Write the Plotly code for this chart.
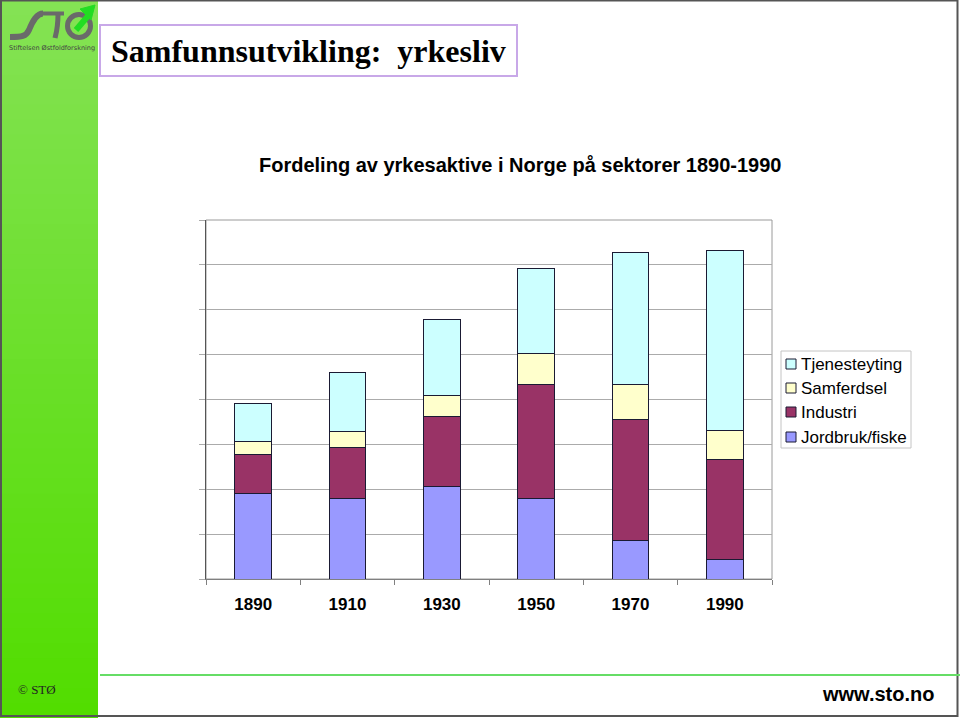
import plotly.graph_objects as go

# ---- data (thousands of employed persons) ----
years = ["1890", "1910", "1930", "1950", "1970", "1990"]
jordbruk = [479, 446, 518, 446, 213, 109]
industri = [214, 287, 386, 636, 676, 558]
samferdsel = [72, 87, 118, 172, 196, 163]
tjeneste = [211, 328, 426, 478, 735, 998]

series_names = ["Jordbruk/fiske", "Industri", "Samferdsel", "Tjenesteyting"]
series_values = [jordbruk, industri, samferdsel, tjeneste]
series_colors = ["#9999FF", "#993366", "#FFFFCC", "#CCFFFF"]
outline = "#1a1a33"

W, H = 960, 718
L, R, T, B = 206, 772, 220, 579


def X(px):
    return (px - L) / (R - L)


def Y(py):
    return (B - py) / (B - T)


fig = go.Figure()
for i, (name, vals, col) in enumerate(zip(series_names, series_values, series_colors)):
    fig.add_trace(go.Bar(
        x=years, y=vals, name=name,
        marker=dict(color=col, line=dict(color=outline, width=1)),
    ))

shapes = []
annotations = []
# green gradient strip on the left
top_c = (132, 226, 84)
bot_c = (82, 221, 0)
n = 48
for k in range(n):
    f = k / (n - 1)
    c = tuple(int(round(top_c[j] + (bot_c[j] - top_c[j]) * f)) for j in range(3))
    y0 = H * k / n
    y1 = H * (k + 1) / n + 1
    shapes.append(dict(type="rect", xref="paper", yref="paper",
                       x0=X(0), x1=X(98), y0=Y(y1), y1=Y(y0),
                       fillcolor=f"rgb{c}", line=dict(width=0), layer="below"))

# slide frame
shapes.append(dict(type="rect", xref="paper", yref="paper",
                   x0=X(1), x1=X(957.5), y0=Y(716), y1=Y(0.5),
                   line=dict(color="#555555", width=2), fillcolor="rgba(0,0,0,0)"))
# title box
shapes.append(dict(type="rect", xref="paper", yref="paper",
                   x0=X(100), x1=X(517), y0=Y(76), y1=Y(25),
                   line=dict(color="#C8A8E8", width=2), fillcolor="white"))
# footer green line
shapes.append(dict(type="line", xref="paper", yref="paper",
                   x0=X(100), x1=X(960), y0=Y(675), y1=Y(675),
                   line=dict(color="#66DD66", width=2)))
# plot area border (top/right)
shapes.append(dict(type="rect", xref="paper", yref="paper",
                   x0=0, x1=1, y0=0, y1=1,
                   line=dict(color="#9a9a9a", width=1), fillcolor="rgba(0,0,0,0)", layer="below"))


# logo: swoosh, T, ring + green arrow
def P(pts):
    s = "M {} {}".format(X(pts[0][0]), Y(pts[0][1]))
    for i in range(1, len(pts), 3):
        a, b, c = pts[i], pts[i + 1], pts[i + 2]
        s += " C {} {}, {} {}, {} {}".format(X(a[0]), Y(a[1]), X(b[0]), Y(b[1]), X(c[0]), Y(c[1]))
    return s


def poly(pts):
    s = "M {} {}".format(X(pts[0][0]), Y(pts[0][1]))
    for p in pts[1:]:
        s += " L {} {}".format(X(p[0]), Y(p[1]))
    return s + " Z"


logo_gray = "#6a6a6a"
shapes.append(dict(type="path", xref="paper", yref="paper",
                   path=P([(10, 37), (22, 37), (26, 36.5), (29, 30), (33, 20), (37, 13.5), (43, 13.5)]),
                   line=dict(color=logo_gray, width=6)))
shapes.append(dict(type="line", xref="paper", yref="paper",
                   x0=X(42), x1=X(64), y0=Y(13.5), y1=Y(13.5),
                   line=dict(color=logo_gray, width=4)))
shapes.append(dict(type="path", xref="paper", yref="paper",
                   path=P([(58, 14), (58, 28), (56, 34), (55, 38)]),
                   line=dict(color=logo_gray, width=5)))
shapes.append(dict(type="circle", xref="paper", yref="paper",
                   x0=X(67.5), x1=X(90.5), y0=Y(37.5), y1=Y(14.5),
                   line=dict(color=logo_gray, width=5), fillcolor="rgba(0,0,0,0)"))
shapes.append(dict(type="line", xref="paper", yref="paper",
                   x0=X(76), x1=X(88), y0=Y(30), y1=Y(16),
                   line=dict(color="#22DD22", width=6)))
shapes.append(dict(type="path", xref="paper", yref="paper",
                   path=poly([(95, 5), (80, 9), (91, 20)]),
                   fillcolor="#22DD22", line=dict(color="#22DD22", width=1)))

# legend (drawn as a box with colour keys, Excel style: top item = last series)
shapes.append(dict(type="rect", xref="paper", yref="paper",
                   x0=X(781), x1=X(911), y0=Y(448), y1=Y(351),
                   line=dict(color="#c4c4c4", width=1), fillcolor="white"))
leg_y = [437, 412, 388, 364]
for name, col, yy in zip(series_names, series_colors, leg_y):
    shapes.append(dict(type="rect", xref="paper", yref="paper",
                       x0=X(786), x1=X(796), y0=Y(yy + 5), y1=Y(yy - 5),
                       fillcolor=col, line=dict(color=outline, width=1)))
    annotations.append(dict(text=name, x=X(799), y=Y(yy), xref="paper", yref="paper",
                            showarrow=False, xanchor="left", yanchor="middle",
                            font=dict(family="Liberation Sans", size=17, color="black")))

annotations += [
    dict(text="Stiftelsen Østfoldforskning", x=X(52), y=Y(48), xref="paper", yref="paper",
         showarrow=False, font=dict(family="DejaVu Sans", size=6.5, color="#444444"),
         xanchor="center", yanchor="middle"),
    dict(text="<b>Samfunnsutvikling:  yrkesliv</b>", x=X(308), y=Y(51), xref="paper", yref="paper",
         showarrow=False, font=dict(family="Liberation Serif", size=32, color="black"),
         xanchor="center", yanchor="middle"),
    dict(text="<b>Fordeling av yrkesaktive i Norge på sektorer 1890-1990</b>",
         x=X(520), y=Y(165), xref="paper", yref="paper", showarrow=False,
         font=dict(family="Liberation Sans", size=20, color="black"),
         xanchor="center", yanchor="middle"),
    dict(text="© STØ", x=X(37), y=Y(689), xref="paper", yref="paper", showarrow=False,
         font=dict(family="Liberation Serif", size=13, color="#222222"),
         xanchor="center", yanchor="middle"),
    dict(text="<b>www.sto.no</b>", x=X(936), y=Y(694), xref="paper", yref="paper",
         showarrow=False, font=dict(family="Liberation Sans Narrow, Liberation Sans", size=20, color="black"),
         xanchor="right", yanchor="middle"),
]

fig.update_layout(
    width=W, height=H,
    margin=dict(l=L, r=W - R, t=T, b=H - B, pad=0),
    paper_bgcolor="white", plot_bgcolor="white",
    barmode="stack", bargap=0.61,
    showlegend=False,
    xaxis=dict(showline=True, linecolor="#808080", linewidth=1,
               ticks="outside", ticklen=5, tickcolor="#808080", tickson="boundaries",
               tickfont=dict(family="Liberation Sans", size=17, color="black"),
               ticklabelstandoff=10, showgrid=False,
               tickprefix="<b>", ticksuffix="</b>"),
    yaxis=dict(range=[0, 2000], dtick=250, showline=True, linecolor="#555555", linewidth=1,
               showgrid=True, gridcolor="#ababab", gridwidth=1,
               ticks="outside", ticklen=6, tickcolor="#ababab",
               showticklabels=False, zeroline=False),
    shapes=shapes,
    annotations=annotations,
)

fig.write_html("out.html")
